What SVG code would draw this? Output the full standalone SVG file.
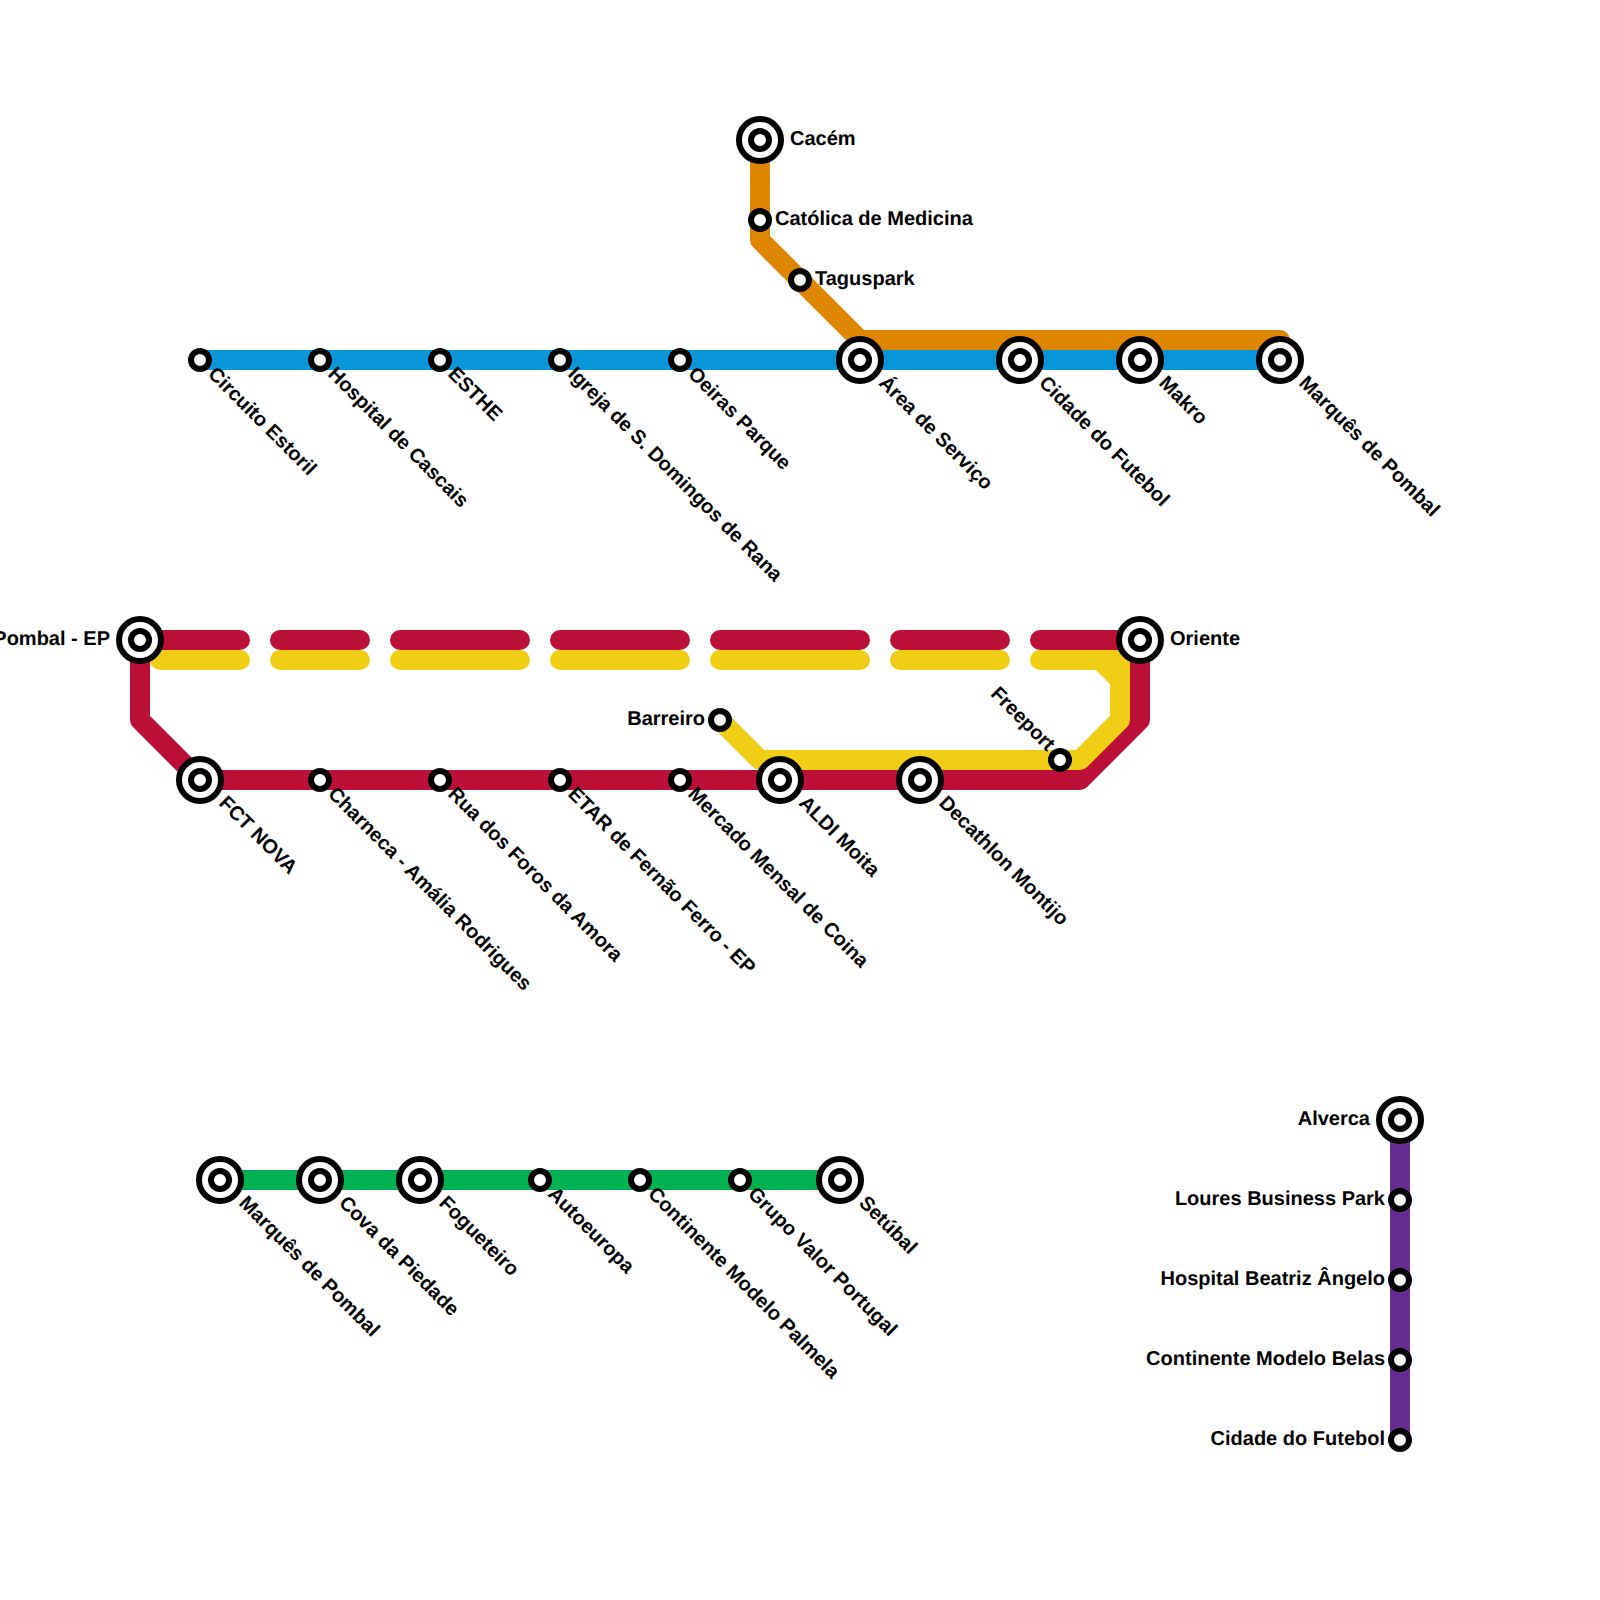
<svg xmlns="http://www.w3.org/2000/svg" width="1600" height="1600" viewBox="0 0 1600 1600">
<style>
text{font-family:"Liberation Sans",Arial,sans-serif;font-weight:700;font-size:20px;fill:#000;text-rendering:geometricPrecision}
.l{fill:none;stroke-width:20;stroke-linecap:round;stroke-linejoin:round}
.blue{stroke:#0a97d9}.orange{stroke:#df8600}.red{stroke:#bd1038}.yellow{stroke:#f0ce15}.green{stroke:#00b251}.purple{stroke:#662d91}
.o{fill:#fff;stroke:#000;stroke-width:6}
.e{text-anchor:end}
</style>
<defs>
<g id="small"><circle class="o" r="9"/></g>
<g id="big"><circle class="o" r="21"/><circle class="o" r="9"/></g>
</defs>
<g id="connectors">
<path class="l blue" d="M200 360H1280"/>
<path class="l orange" d="M760 140V240L860 340H1280"/>
<path class="l red" d="M140 640H240M280 640H360M400 640H520M560 640H680M720 640H860M900 640H1000M1040 640H1140V720L1080 780H200L140 720V640"/>
<path class="l yellow" d="M160 660H240M280 660H360M400 660H520M560 660H680M720 660H860M900 660H1000M1040 660H1100L1120 680V720L1080 760H760L720 720"/>
<path class="l yellow" style="stroke-linejoin:miter" d="M1100 660H1120V680"/>
<path class="l green" d="M220 1180H840"/>
<path class="l purple" d="M1400 1120V1440"/>
</g>
<g id="n1"><use href="#small" x="200" y="360"/><text transform="translate(207 375) rotate(45)">Circuito Estoril</text></g>
<g id="n2"><use href="#small" x="320" y="360"/><text transform="translate(327 375) rotate(45)">Hospital de Cascais</text></g>
<g id="n3"><use href="#small" x="440" y="360"/><text transform="translate(447 375) rotate(45)">ESTHE</text></g>
<g id="n4"><use href="#small" x="560" y="360"/><text transform="translate(567 375) rotate(45)">Igreja de S. Domingos de Rana</text></g>
<g id="n5"><use href="#small" x="680" y="360"/><text transform="translate(687 375) rotate(45)">Oeiras Parque</text></g>
<g id="n6"><use href="#big" x="860" y="360"/><text transform="translate(878 384) rotate(45)">Área de Serviço</text></g>
<g id="n7"><use href="#big" x="1020" y="360"/><text transform="translate(1038 384) rotate(45)">Cidade do Futebol</text></g>
<g id="n8"><use href="#big" x="1140" y="360"/><text transform="translate(1158 384) rotate(45)">Makro</text></g>
<g id="n9"><use href="#big" x="1280" y="360"/><text transform="translate(1298 384) rotate(45)">Marquês de Pombal</text></g>
<g id="n10"><use href="#big" x="760" y="140"/><text x="790" y="145">Cacém</text></g>
<g id="n11"><use href="#small" x="760" y="220"/><text x="775" y="225">Católica de Medicina</text></g>
<g id="n12"><use href="#small" x="800" y="280"/><text x="815" y="285">Taguspark</text></g>
<g id="n13"><use href="#big" x="140" y="640"/><text class="e" x="110" y="645">Pombal - EP</text></g>
<g id="n14"><use href="#big" x="1140" y="640"/><text x="1170" y="645">Oriente</text></g>
<g id="n15"><use href="#big" x="200" y="780"/><text transform="translate(218 804) rotate(45)">FCT NOVA</text></g>
<g id="n16"><use href="#small" x="320" y="780"/><text transform="translate(327 795) rotate(45)">Charneca - Amália Rodrigues</text></g>
<g id="n17"><use href="#small" x="440" y="780"/><text transform="translate(447 795) rotate(45)">Rua dos Foros da Amora</text></g>
<g id="n18"><use href="#small" x="560" y="780"/><text transform="translate(567 795) rotate(45)">ETAR de Fernão Ferro - EP</text></g>
<g id="n19"><use href="#small" x="680" y="780"/><text transform="translate(687 795) rotate(45)">Mercado Mensal de Coina</text></g>
<g id="n20"><use href="#big" x="780" y="780"/><text transform="translate(798 804) rotate(45)">ALDI Moita</text></g>
<g id="n21"><use href="#big" x="920" y="780"/><text transform="translate(938 804) rotate(45)">Decathlon Montijo</text></g>
<g id="n22"><use href="#small" x="720" y="720"/><text class="e" x="705" y="725">Barreiro</text></g>
<g id="n23"><use href="#small" x="1060" y="760"/><text class="e" transform="translate(1047 752) rotate(45)">Freeport</text></g>
<g id="n24"><use href="#big" x="220" y="1180"/><text transform="translate(238 1204) rotate(45)">Marquês de Pombal</text></g>
<g id="n25"><use href="#big" x="320" y="1180"/><text transform="translate(338 1204) rotate(45)">Cova da Piedade</text></g>
<g id="n26"><use href="#big" x="420" y="1180"/><text transform="translate(438 1204) rotate(45)">Fogueteiro</text></g>
<g id="n27"><use href="#small" x="540" y="1180"/><text transform="translate(547 1195) rotate(45)">Autoeuropa</text></g>
<g id="n28"><use href="#small" x="640" y="1180"/><text transform="translate(647 1195) rotate(45)">Continente Modelo Palmela</text></g>
<g id="n29"><use href="#small" x="740" y="1180"/><text transform="translate(747 1195) rotate(45)">Grupo Valor Portugal</text></g>
<g id="n30"><use href="#big" x="840" y="1180"/><text transform="translate(858 1204) rotate(45)">Setúbal</text></g>
<g id="n31"><use href="#big" x="1400" y="1120"/><text class="e" x="1370" y="1125">Alverca</text></g>
<g id="n32"><use href="#small" x="1400" y="1200"/><text class="e" x="1385" y="1205">Loures Business Park</text></g>
<g id="n33"><use href="#small" x="1400" y="1280"/><text class="e" x="1385" y="1285">Hospital Beatriz Ângelo</text></g>
<g id="n34"><use href="#small" x="1400" y="1360"/><text class="e" x="1385" y="1365">Continente Modelo Belas</text></g>
<g id="n35"><use href="#small" x="1400" y="1440"/><text class="e" x="1385" y="1445">Cidade do Futebol</text></g>
</svg>
